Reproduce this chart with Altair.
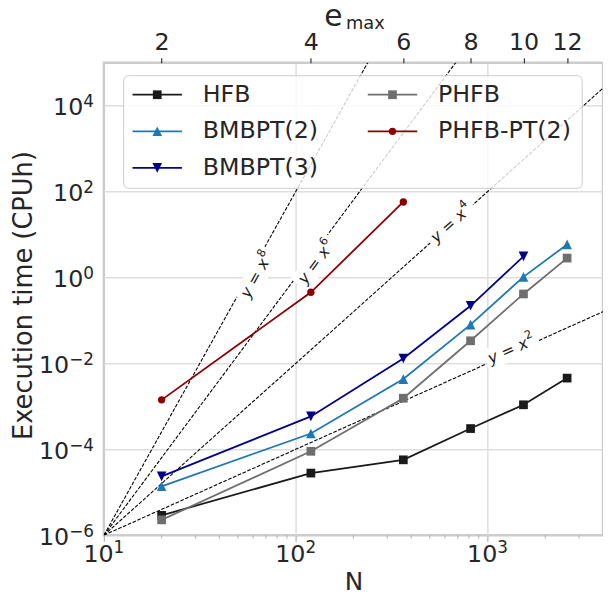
import math
import altair as alt
import pandas as pd

# ---------------- data ----------------
N_VALUES = [20, 120, 364, 816, 1540, 2600]
EMAX_LABELS = ["2", "4", "6", "8", "10", "12"]

SERIES = ["HFB", "BMBPT(2)", "BMBPT(3)", "PHFB", "PHFB-PT(2)"]
HFB = [2.9e-6, 2.8e-5, 5.7e-5, 3.05e-4, 1.09e-3, 4.56e-3]
BMBPT2 = [1.38e-5, 2.34e-4, 4.33e-3, 0.080, 1.04, 5.9]
BMBPT3 = [2.35e-5, 5.85e-4, 0.013, 0.22, 3.11]
PHFB = [2.28e-6, 9.0e-5, 1.55e-3, 0.0337, 0.415, 2.84]
PHFBPT2 = [1.42e-3, 0.454, 57.5]
SERIES_VALUES = [HFB, BMBPT2, BMBPT3, PHFB, PHFBPT2]

COLORS = ["#1a1a1a", "#1f77b4", "#00008b", "#6e6e6e", "#8b0000"]
TRI_UP = "M0,-1L1,1L-1,1Z"
TRI_DOWN = "M0,1L1,-1L-1,-1Z"
SHAPES = ["square", TRI_UP, TRI_DOWN, "square", "circle"]
SIZES = [78, 95, 95, 78, 55]

GUIDE_POWERS = [2, 4, 6, 8]
GUIDE_EXPONENTS = ["2", "4", "6", "8"]
GUIDE_LABEL_N = [1331, 647, 128, 62.7]
GUIDE_LABEL_Y = [0.0212, 18.2, 2.26, 1.14]

X_TICKS = [10, 100, 1000]
X_TICK_EXP = ["1", "2", "3"]
X_MINOR = [20, 30, 40, 50, 60, 70, 80, 90,
           200, 300, 400, 500, 600, 700, 800, 900, 2000, 3000]
Y_TICKS = [1e-6, 1e-4, 1e-2, 1, 1e2, 1e4]
Y_TICK_EXP = ["\u22126", "\u22124", "\u22122", "0", "2", "4"]

X_DOMAIN = [10, 4000]
Y_DOMAIN = [1e-6, 1e5]

# ---------------- geometry / style ----------------
W, H = 505, 478
FONT = "DejaVu Sans"
TEXT = "#262626"
TICK_FS = 24
EXP_FS = 17
ADV = {"0": 0.636, "1": 0.636, "2": 0.636, "3": 0.636, "4": 0.636,
       "5": 0.636, "6": 0.636, "7": 0.636, "8": 0.636, "9": 0.636, "\u2212": 0.838}


def text_width(s, fs):
    return sum(ADV.get(c, 0.6) for c in s) * fs


XS = alt.Scale(type="log", domain=X_DOMAIN, nice=False)
YS = alt.Scale(type="log", domain=Y_DOMAIN, nice=False)

px_dec_x = W / math.log10(X_DOMAIN[1] / X_DOMAIN[0])
px_dec_y = H / math.log10(Y_DOMAIN[1] / Y_DOMAIN[0])

# ---------------- axes ----------------
grid_op_x = {"condition": {"test": "datum.value <= 10.01", "value": 0}, "value": 1}
grid_op_y = {"condition": {"test": "datum.value <= 1.01e-6", "value": 0}, "value": 1}

bottom_axis = alt.Axis(
    values=X_TICKS, labels=False,
    title="N", grid=True, gridOpacity=grid_op_x, domain=False,
    tickSize=6, tickColor="#b0b0b0", tickWidth=1.2,
    titleBaseline="alphabetic", titleY=55, titleFontSize=25,
)
left_axis = alt.Axis(
    values=Y_TICKS, labels=False,
    title="Execution time (CPUh)", grid=True, gridOpacity=grid_op_y, domain=False,
    ticks=False, tickSize=0,
    titleAngle=270, titleX=-73, titleY=235, titleBaseline="alphabetic",
    titleAlign="center", titleFontSize=26,
)
top_axis = alt.Axis(
    orient="top", values=N_VALUES,
    labelExpr=" : ".join(
        f"datum.value < {n * 1.5} ? '{lab}'" for n, lab in zip(N_VALUES[:-1], EMAX_LABELS[:-1])
    ) + f" : '{EMAX_LABELS[-1]}'",
    title=None, grid=False, domain=False, tickSize=5, tickColor="#333333", tickWidth=1.2,
    labelBaseline="alphabetic", labelPadding=8, labelFlush=False, labelOverlap=False,
)


def X(field):
    return alt.X(field, scale=XS, axis=None)


def Y(field):
    return alt.Y(field, scale=YS, axis=left_axis)


color_enc = alt.Color("series:N", scale=alt.Scale(domain=SERIES, range=COLORS), legend=None)
shape_enc = alt.Shape("series:N", scale=alt.Scale(domain=SERIES, range=SHAPES), legend=None)

# ---------------- tables ----------------
rows = []
for i, (s, vals) in enumerate(zip(SERIES, SERIES_VALUES)):
    for n, v in zip(N_VALUES, vals):
        rows.append({"series": s, "N": n, "t": v, "sz": SIZES[i]})
df = pd.DataFrame(rows)

g_rows = []
for k in GUIDE_POWERS:
    for n in X_DOMAIN:
        g_rows.append({"k": k, "N": n, "t": Y_DOMAIN[0] * (n / X_DOMAIN[0]) ** k})
gdf = pd.DataFrame(g_rows)

G_FS, G_SUP_FS = 16, 11.5
base_w = 2.658 * G_FS
sup_w = 0.636 * G_SUP_FS
tot_w = base_w + sup_w
lab_df = pd.DataFrame({
    "N": GUIDE_LABEL_N, "t": GUIDE_LABEL_Y, "sup": GUIDE_EXPONENTS,
    "ang": [360 - math.degrees(math.atan(k * px_dec_y / px_dec_x)) for k in GUIDE_POWERS],
})

top_df = pd.DataFrame({"N": N_VALUES, "e": EMAX_LABELS})
minor_df = pd.DataFrame({"N": X_MINOR})

xt_df = pd.DataFrame({"v": X_TICKS, "exp": X_TICK_EXP})
x_base_w = text_width("10", TICK_FS)
x_dx = [-(x_base_w + text_width(e, EXP_FS)) / 2 + x_base_w for e in X_TICK_EXP]

yt_df = pd.DataFrame({
    "v": Y_TICKS, "exp": Y_TICK_EXP,
    "xe": [-10.0] * len(Y_TICKS),
    "xb": [-10.0 - text_width(e, EXP_FS) for e in Y_TICK_EXP],
})

leg_rows = []
for i, s in enumerate(SERIES):
    col = 0 if i < 3 else 1
    row = i if i < 3 else i - 3
    x0 = 29 if col == 0 else 267
    leg_rows.append({
        "series": s, "x1": x0, "x2": x0 + 50, "xm": x0 + 25, "xt": x0 + 71,
        "y": 32.3 + 37 * row, "sz": SIZES[i],
    })
ldf = pd.DataFrame(leg_rows)

# ---------------- layers ----------------
guides = alt.Chart(gdf).mark_line(
    clip=True, color="black", strokeWidth=1.1, strokeDash=[3.7, 1.6]
).encode(x=X("N:Q"), y=Y("t:Q"), detail="k:N")

BOX = "M-1,-0.38L1,-0.38L1,0.38L-1,0.38Z"
guide_boxes = alt.Chart(lab_df).mark_point(
    shape=BOX, filled=True, color="white", opacity=1, size=58 * 58
).encode(x=X("N:Q"), y=Y("t:Q"), angle=alt.Angle("ang:Q", scale=None))

guide_text = alt.Chart(lab_df).mark_text(
    font=FONT, fontSize=G_FS, fontStyle="italic", color="#1a1a1a",
    align="left", baseline="middle", text="y = x", dx=-tot_w / 2,
).encode(x=X("N:Q"), y=Y("t:Q"), angle=alt.Angle("ang:Q", scale=None))

guide_sup = alt.Chart(lab_df).mark_text(
    font=FONT, fontSize=G_SUP_FS, color="#1a1a1a",
    align="left", baseline="middle", dx=-tot_w / 2 + base_w + 0.5, dy=-6,
).encode(x=X("N:Q"), y=Y("t:Q"), text="sup:N", angle=alt.Angle("ang:Q", scale=None))

lines = alt.Chart(df).mark_line(strokeWidth=1.8).encode(
    x=alt.X("N:Q", scale=XS, axis=bottom_axis),
    y=Y("t:Q"),
    color=color_enc,
    detail="series:N",
    order="N:Q",
)
points = alt.Chart(df).mark_point(filled=True, opacity=1).encode(
    x=X("N:Q"), y=Y("t:Q"),
    color=color_enc, shape=shape_enc,
    size=alt.Size("sz:Q", scale=None),
)

minor_ticks = alt.Chart(minor_df).mark_rule(color="#b0b0b0", strokeWidth=1).encode(
    x=X("N:Q"), y=alt.value(H), y2=alt.value(H + 3.5),
)

top = alt.Chart(top_df).mark_point(opacity=0).encode(
    x=alt.X("N:Q", scale=XS, axis=top_axis), y=alt.value(0),
)

# bottom tick labels 10^k
x_lab_base = alt.Chart(xt_df).mark_text(
    font=FONT, fontSize=TICK_FS, color=TEXT, align="right", baseline="alphabetic",
    text="10", dx=x_dx[0],
).encode(x=X("v:Q"), y=alt.value(H + 27))
x_lab_exp = alt.Chart(xt_df).mark_text(
    font=FONT, fontSize=EXP_FS, color=TEXT, align="left", baseline="alphabetic",
    dx=x_dx[0],
).encode(x=X("v:Q"), y=alt.value(H + 18), text="exp:N")

# left tick labels 10^k
y_lab_base = alt.Chart(yt_df).mark_text(
    font=FONT, fontSize=TICK_FS, color=TEXT, align="right", baseline="alphabetic", text="10",
    dy=9.6,
).encode(x=alt.X("xb:Q", scale=None, axis=None), y=Y("v:Q"))
y_lab_exp = alt.Chart(yt_df).mark_text(
    font=FONT, fontSize=EXP_FS, color=TEXT, align="right", baseline="alphabetic", dy=1.3,
).encode(x=alt.X("xe:Q", scale=None, axis=None), y=Y("v:Q"), text="exp:N")

legend_box = alt.Chart(pd.DataFrame({"a": [0]})).mark_rect(
    fill="white", fillOpacity=0.8, stroke="#cccccc", strokeWidth=1, cornerRadius=5
).encode(x=alt.value(20), x2=alt.value(484), y=alt.value(13), y2=alt.value(127))
legend_lines = alt.Chart(ldf).mark_rule(strokeWidth=1.8).encode(
    x=alt.X("x1:Q", scale=None, axis=None), x2="x2:Q",
    y=alt.Y("y:Q", scale=None, axis=None), color=color_enc,
)
legend_points = alt.Chart(ldf).mark_point(filled=True, opacity=1).encode(
    x=alt.X("xm:Q", scale=None, axis=None), y=alt.Y("y:Q", scale=None, axis=None),
    color=color_enc, shape=shape_enc, size=alt.Size("sz:Q", scale=None),
)
legend_text = alt.Chart(ldf).mark_text(
    font=FONT, fontSize=24, color=TEXT, align="left", baseline="middle"
).encode(
    x=alt.X("xt:Q", scale=None, axis=None), y=alt.Y("y:Q", scale=None, axis=None),
    text="series:N",
)

emax_e = alt.Chart(pd.DataFrame({"a": [0]})).mark_text(
    text="e", font=FONT, fontSize=30, color=TEXT, align="left", baseline="alphabetic"
).encode(x=alt.value(223), y=alt.value(-37))
emax_sub = alt.Chart(pd.DataFrame({"a": [0]})).mark_text(
    text="max", font=FONT, fontSize=18, color=TEXT, align="left", baseline="alphabetic"
).encode(x=alt.value(245), y=alt.value(-34))

chart = alt.layer(
    guides, guide_boxes, guide_text, guide_sup, lines, points, minor_ticks, top,
    x_lab_base, x_lab_exp, y_lab_base, y_lab_exp,
    legend_box, legend_lines, legend_points, legend_text, emax_e, emax_sub,
).resolve_axis(
    x="independent"
).properties(
    width=W, height=H,
    autosize=alt.AutoSizeParams(type="none"),
    padding={"left": 97, "top": 52, "right": 0, "bottom": 56},
).configure(
    font=FONT,
).configure_axis(
    labelFont=FONT, titleFont=FONT, labelFontSize=24, labelColor=TEXT,
    titleColor=TEXT, titleFontWeight="normal",
    gridColor="#dedede", gridWidth=1.5,
).configure_view(
    stroke="#cccccc", strokeWidth=2.5,
)

chart.save("out.html", embed_options={"renderer": "svg", "actions": False})
